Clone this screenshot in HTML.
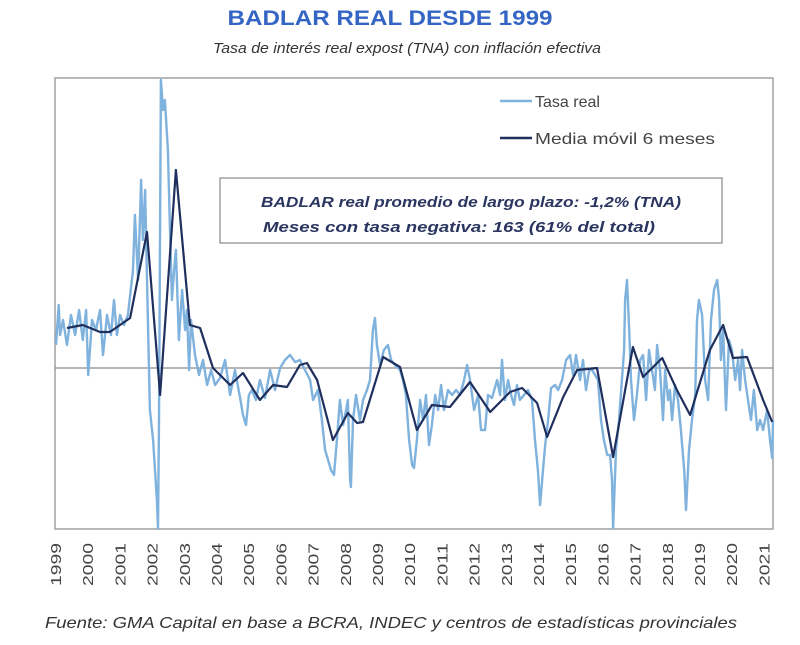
<!DOCTYPE html>
<html><head><meta charset="utf-8"><style>
html,body{margin:0;padding:0;background:#fff;}
svg{display:block;font-family:"Liberation Sans",sans-serif;}
</style></head><body>
<svg id="chart" width="800" height="645" viewBox="0 0 800 645">
<text x="390" y="25" text-anchor="middle" font-size="21" font-weight="bold" fill="#3565c4" textLength="325" lengthAdjust="spacingAndGlyphs">BADLAR REAL DESDE 1999</text>
<text x="407" y="53" text-anchor="middle" font-size="15" font-style="italic" fill="#333" textLength="388" lengthAdjust="spacingAndGlyphs">Tasa de interés real expost (TNA) con inflación efectiva</text>
<rect x="55" y="78" width="718" height="451" fill="none" stroke="#a0a0a0" stroke-width="1.5"/>
<g id="grid"></g>
<g id="series"></g>
<g id="xaxis"></g>
<g>
<line x1="500" y1="101" x2="532" y2="101" stroke="#7fb2dd" stroke-width="2.5"/>
<text x="535" y="107" font-size="16" fill="#444">Tasa real</text>
<line x1="500" y1="138" x2="532" y2="138" stroke="#1f2f5e" stroke-width="2.5"/>
<text x="535" y="144" font-size="16" fill="#444" textLength="180" lengthAdjust="spacingAndGlyphs">Media móvil 6 meses</text>
</g>
<g>
<rect x="220" y="178" width="502" height="65" fill="#fff" stroke="#888" stroke-width="1.2"/>
<text x="471" y="207" text-anchor="middle" font-size="15" font-weight="bold" font-style="italic" fill="#2a3560" textLength="420" lengthAdjust="spacingAndGlyphs">BADLAR real promedio de largo plazo: -1,2% (TNA)</text>
<text x="459" y="232" text-anchor="middle" font-size="15" font-weight="bold" font-style="italic" fill="#2a3560" textLength="392" lengthAdjust="spacingAndGlyphs">Meses con tasa negativa: 163 (61% del total)</text>
</g>
<text x="45" y="628" font-size="16" font-style="italic" fill="#333" textLength="692" lengthAdjust="spacingAndGlyphs">Fuente: GMA Capital en base a BCRA, INDEC y centros de estadísticas provinciales</text>
</svg>
<script>
const years=["1999","2000","2001","2002","2003","2004","2005","2006","2007","2008","2009","2010","2011","2012","2013","2014","2015","2016","2017","2018","2019","2020","2021"];
const rawMonths=[0,1,1.5,2.6,4.1,5.6,7.1,8.6,10,11.2,12,13.4,14.9,16.4,17.5,19,20.5,21.6,22.7,23.9,25.3,26.8,28.7,29.4,30.6,31.7,32.4,33.2,33.9,35,36.2,36.9,37.6,38,38.4,39.1,39.9,40.6,41.7,42.5,43.2,44,44.7,45.8,47,48.1,48.8,49.6,50.3,51.8,53.3,54.8,56.3,57.8,59.3,61.1,63,64.9,66.7,68.6,69.7,70.8,71.9,73,74.5,76,77.9,79.8,81.6,83.5,85.3,87.2,89.1,90.9,94.7,95.8,97.6,99.1,100.3,101.4,102.5,103.6,104.7,105.8,107,108.1,108.8,109.6,109.9,110.7,111.8,113.3,114.4,115.9,117,118.1,118.9,119.6,120.8,122.2,123.7,124.9,126.3,128.2,129.3,130.4,131.6,132.7,133.4,134.5,135.7,136.8,137.9,139,140.1,141.3,142.4,143.5,144.6,146.1,147.6,149.1,150.6,152.1,153.2,154.3,155.8,157.3,158.4,159.9,161,162.5,164.4,165.5,166.2,167.3,168.5,169.6,170.7,171.8,172.9,174.4,175.9,177.4,178.5,179.6,180.4,181.5,182.3,183.4,184.5,186,187.1,188.6,190.1,191.6,192.7,193.8,195.3,196.4,197.5,198.7,199.8,200.9,202,203.1,204.2,205.4,206.5,207.2,207.6,208.7,209.8,210.9,211.7,212.1,212.8,213.6,214.3,215.4,216.5,217.7,218.8,219.9,221,222.1,223.2,224,225.1,226.2,227,228.1,228.8,229.6,230.7,231.8,232.9,234.1,234.8,235.9,237,238.2,238.9,239.6,240.8,241.9,243,244.1,245.2,246.4,247.1,247.8,248.6,249.7,250.8,251.9,253.1,254.2,254.9,255.7,256.8,257.9,259,260.1,261.3,262.4,263.5,265,266.1,266.9,267.2];
const rawValues=[4.6,12.6,6.6,9.6,4.6,10.6,6.6,11.6,5.6,11.6,-1.4,9.6,7.6,11.6,2.6,10.6,6.6,13.6,6.6,10.6,8.6,10.6,19.6,30.6,17.6,37.6,25.6,35.6,17.6,-8.4,-14.4,-20.4,-26.4,-32,-10.4,57.6,51.6,53.6,43.6,27.6,13.6,19.6,23.6,5.6,15.6,7.6,11.6,-0.4,9.6,2.6,-1.4,1.6,-3.4,-0.4,-3.4,-2,1.6,-5.4,-0.4,-6,-9.4,-11.4,-5.4,-4.4,-6.4,-2.4,-6,-0.4,-4.4,0,1.6,2.6,1.2,1.6,-2.4,-6.4,-4.4,-10.4,-16.4,-18.4,-20.4,-21.4,-14.4,-6.4,-11.4,-8.4,-6.4,-22.4,-23.8,-10.4,-5.4,-10.4,-6.4,-4.4,-2.4,7.6,10,4.6,0.6,3.6,4.6,1.6,0.6,-0.4,-2.4,-5.4,-14.4,-19.4,-20,-14.4,-6.4,-10.4,-5.4,-15.4,-11.4,-5.4,-8.4,-3.4,-8.4,-4.4,-5.4,-4.4,-5.4,-2.4,0.6,-2.4,-8.4,-5.4,-12.4,-12.4,-5.4,-6,-2.4,-5.4,1.6,-6.4,-2.4,-5.4,-7.4,-3.4,-6.4,-5.4,-4.4,-6.4,-14.4,-20.4,-27.4,-20.4,-15.4,-10.4,-4,-3.4,-4.4,-2.4,1.6,2.6,-1.4,2.6,-2.4,1.6,-4.4,-0.4,-0.4,-1.4,-2.4,-10.4,-14.4,-17.4,-17.4,-22.4,-32,-16.4,-10.4,-2.4,3.6,13.6,17.6,7.6,-2.4,-10.4,-5.4,1.6,2.6,-6.4,3.6,-0.4,-4.4,4.6,-0.4,-10.4,-0.4,-6.4,-4.4,-10.4,-3.4,-6.4,-12.4,-20.4,-28.4,-16.4,-10.4,-5.4,9.6,13.6,10.6,-2.4,-6.4,9.6,15.6,17.6,13.6,1.6,7.6,-8.4,5.6,3.6,-2.4,1.6,-4.4,3.6,-2.4,-6.4,-10.4,-4.4,-12.4,-10.4,-12.4,-8.4,-14.4,-18,-10.4];
const maMonths=[4.1,10,16.4,20.1,27.6,33.9,38.8,44.7,49.9,53.7,58.5,64.9,69.7,76,80.9,86.1,90.9,93.5,97.3,103.2,108.8,112.2,114.4,121.9,128.2,134.5,140.1,146.8,154.3,161.8,169.2,173.7,179.3,183,189,194.2,201.6,207.6,215,218.8,225.9,231.4,236.3,243.7,248.6,252.3,257.5,263.5,266.9];
const maValues=[8,8.6,7.2,7.2,10,27.2,-5.4,39.6,8.6,8,0,-3.4,-1,-6.4,-3.4,-3.8,0.6,1,-2.4,-14.4,-9,-11,-10.8,2.2,0.2,-12.4,-7.4,-7.8,-2.8,-8.8,-4.8,-4,-7,-13.8,-5.8,-0.4,0,-17.8,4.2,-1.8,2,-4.4,-9.4,3.6,8.6,2,2.2,-6.4,-10.8];

const NS="http://www.w3.org/2000/svg";
const X0=56, PX_PER_MONTH=32.2/12, Y0=368, PX_PER_UNIT=5;
function xScale(m){return Math.min(773,Math.max(55,X0+m*PX_PER_MONTH));}
function yScale(v){return Math.min(529,Math.max(78,Y0-v*PX_PER_UNIT));}
function yearX(i){return X0+i*12*PX_PER_MONTH;}

const grid=document.getElementById('grid');
const zl=document.createElementNS(NS,'line');
zl.setAttribute('x1',55);zl.setAttribute('x2',773);
zl.setAttribute('y1',yScale(0));zl.setAttribute('y2',yScale(0));
zl.setAttribute('stroke','#8a8a8a');zl.setAttribute('stroke-width','1.2');


grid.appendChild(zl);

function drawLine(ms,vs,color,w,name){
  const p=document.createElementNS(NS,'path');
  let d='';
  for(let i=0;i<ms.length;i++){d+=(i?'L':'M')+xScale(ms[i]).toFixed(1)+','+yScale(vs[i]).toFixed(1);}
  p.setAttribute('d',d);p.setAttribute('fill','none');p.setAttribute('stroke',color);
  p.setAttribute('stroke-width',w);p.setAttribute('stroke-linejoin','round');
  
  
  document.getElementById('series').appendChild(p);
}
drawLine(rawMonths,rawValues,'#7fb2dd',2.4,'tasa-real-line');
drawLine(maMonths,maValues,'#1f2f5e',2.2,'media-movil-line');

const xa=document.getElementById('xaxis');
years.forEach((y,i)=>{
  const t=document.createElementNS(NS,'text');
  const x=yearX(i)+5;
  t.setAttribute('x',x);t.setAttribute('y',543);
  t.setAttribute('transform','rotate(-90 '+x+' 543)');
  t.setAttribute('text-anchor','end');t.setAttribute('font-size','15');t.setAttribute('fill','#444');
  t.setAttribute('textLength','43');t.setAttribute('lengthAdjust','spacingAndGlyphs');
  t.textContent=y;
  
  
  xa.appendChild(t);
});
</script>
</body></html>
